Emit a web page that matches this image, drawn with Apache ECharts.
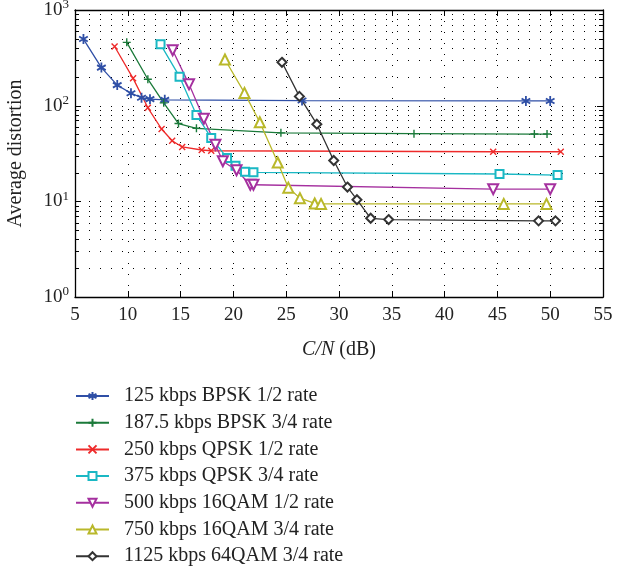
<!DOCTYPE html>
<html>
<head>
<meta charset="utf-8">
<script src="https://cdn.jsdelivr.net/npm/echarts@6/dist/echarts.min.js"></script>
<style>
  html, body { margin: 0; padding: 0; background: #fff; }
  #chart { width: 617px; height: 571px; }
</style>
</head>
<body>
<div id="chart"></div>
<script>
// C/N (dB) vs. average distortion for each modulation / coding mode
const seriesNames = [
  '125 kbps BPSK 1/2 rate',
  '187.5 kbps BPSK 3/4 rate',
  '250 kbps QPSK 1/2 rate',
  '375 kbps QPSK 3/4 rate',
  '500 kbps 16QAM 1/2 rate',
  '750 kbps 16QAM 3/4 rate',
  '1125 kbps 64QAM 3/4 rate'
];

const bpskHalf = [[5.8, 497], [7.5, 250], [9.0, 164], [10.3, 135], [11.3, 121], [12.1, 117], [13.5, 115], [26.5, 113], [47.7, 112], [50.0, 112]];
const bpskThreeQuarter = [[9.9, 459], [11.9, 189], [13.4, 107], [14.8, 65], [16.5, 58], [24.5, 52], [37.1, 51], [48.5, 50.5], [49.7, 50.5]];
const qpskHalf = [[8.75, 415], [10.5, 193], [11.9, 95], [13.2, 57], [14.2, 43], [15.15, 37], [17.0, 34.4], [17.9, 33.8], [44.6, 33], [51.0, 33]];
const qpskThreeQuarter = [[13.1, 438], [14.9, 201], [16.5, 80], [17.9, 46], [19.4, 28.4], [20.2, 23.5], [21.1, 20.4], [21.9, 20.1], [45.2, 19.3], [50.7, 18.8]];
const qam16Half = [[14.25, 379], [15.8, 167], [17.2, 73], [18.3, 39], [19.0, 26.2], [20.3, 21.1], [21.6, 14.9], [21.9, 14.9], [44.6, 13.4], [50.0, 13.4]];
const qam16ThreeQuarter = [[19.2, 304], [21.05, 136], [22.5, 67], [24.2, 25.5], [25.2, 13.9], [26.3, 10.8], [27.7, 9.5], [28.3, 9.4], [45.6, 9.4], [49.65, 9.4]];
const qam64ThreeQuarter = [[24.6, 284], [26.25, 125], [27.9, 64], [29.5, 26.7], [30.8, 14.1], [31.7, 10.4], [33.0, 6.65], [34.7, 6.45], [48.9, 6.25], [50.5, 6.25]];

// axis ranges and tick values
const xMin = 5, xMax = 55, xStep = 5;
const yMin = 1, yMax = 1000;
const yDecades = [1, 10, 100, 1000];
// logarithmic grid lines: 2..9 in each decade plus inner decades
const yGridValues = [];
for (let d = 1; d < 1000; d *= 10) {
  for (let m = 1; m <= 9; m++) {
    const v = m * d;
    if (v > yMin && v < yMax) yGridValues.push(v);
  }
}

const FONT = 'Liberation Serif';
const colors = ['#2f4fa6', '#1b7a3a', '#ee2a2a', '#1ab8c4', '#a5309f', '#b9b82a', '#333333'];

const asterisk = 'path://M5,0L5,10M0.67,2.5L9.33,7.5M0.67,7.5L9.33,2.5';
const plus = 'path://M5,0L5,10M0,5L10,5';
const cross = 'path://M0,0L10,10M0,10L10,0';

const dataSets = [bpskHalf, bpskThreeQuarter, qpskHalf, qpskThreeQuarter, qam16Half, qam16ThreeQuarter, qam64ThreeQuarter];
const symbolSpec = [
  { symbol: asterisk, size: 10, rotate: 0, border: 1.8 },
  { symbol: plus, size: 8, rotate: 0, border: 1.4 },
  { symbol: cross, size: 6, rotate: 0, border: 1.4 },
  { symbol: 'emptyRect', size: 8, rotate: 0, border: 1.3 },
  { symbol: 'emptyTriangle', size: 10, rotate: 180, border: 1.3 },
  { symbol: 'emptyTriangle', size: 10, rotate: 0, border: 1.3 },
  { symbol: 'emptyDiamond', size: 9, rotate: 0, border: 1.3 }
];

const lineSeries = dataSets.map((d, i) => ({
  name: seriesNames[i],
  type: 'line',
  data: d,
  xAxisIndex: 0,
  yAxisIndex: 0,
  symbol: symbolSpec[i].symbol,
  symbolSize: symbolSpec[i].size,
  symbolRotate: symbolSpec[i].rotate,
  symbolKeepAspect: true,
  showAllSymbol: true,
  lineStyle: { color: colors[i], width: 1.3 },
  itemStyle: { color: colors[i], borderColor: colors[i], borderWidth: symbolSpec[i].border },
  emphasis: { disabled: true },
  z: 3
}));

// dotted log grid lines with minor ticks on both sides
const gridSeries = {
  type: 'custom',
  xAxisIndex: 0,
  yAxisIndex: 0,
  silent: true,
  z: 1,
  data: yGridValues.map(v => [xMin, v]),
  renderItem: function (params, api) {
    const v = api.value(1);
    const p0 = api.coord([xMin, v]);
    const p1 = api.coord([xMax, v]);
    const y = Math.round(p0[1]) + 0.5;
    const isMajor = yDecades.indexOf(v) >= 0;
    const t = isMajor ? 6 : 4;
    return {
      type: 'group',
      children: [
        { type: 'line', shape: { x1: p0[0] + 3, y1: y, x2: p1[0], y2: y },
          style: { stroke: '#000', lineWidth: 1, lineDash: [1, 10] } },
        { type: 'line', shape: { x1: p0[0], y1: y, x2: p0[0] + t, y2: y },
          style: { stroke: '#000', lineWidth: 1 } },
        { type: 'line', shape: { x1: p1[0], y1: y, x2: p1[0] - t, y2: y },
          style: { stroke: '#000', lineWidth: 1 } }
      ]
    };
  }
};

const supMap = { 0: '0', 1: '1', 2: '2', 3: '3' };

const chart = echarts.init(document.getElementById('chart'), null, { renderer: 'canvas' });
chart.setOption({
  animation: false,
  backgroundColor: '#fff',
  textStyle: { fontFamily: FONT },
  grid: { left: 75, right: 14, top: 10, height: 287, containLabel: false, outerBoundsMode: 'none' },
  xAxis: [{
    type: 'value',
    min: xMin, max: xMax, interval: xStep,
    position: 'bottom',
    name: '{i|C/N} (dB)',
    nameLocation: 'middle',
    nameGap: 43,
    nameTextStyle: {
      fontFamily: FONT, fontSize: 20, color: '#222',
      rich: { i: { fontFamily: FONT, fontSize: 20, fontStyle: 'italic', color: '#222' } }
    },
    axisLine: { show: true, lineStyle: { color: '#000', width: 1.3 } },
    axisTick: { show: true, inside: true, length: 6, lineStyle: { color: '#000' } },
    axisLabel: { fontFamily: FONT, fontSize: 19, color: '#222', margin: 9 },
    splitLine: { show: true, lineStyle: { color: '#000', width: 1, type: [1, 10] } }
  }, {
    type: 'value',
    min: xMin, max: xMax, interval: xStep,
    position: 'top',
    axisLine: { show: true, lineStyle: { color: '#000', width: 1.3 } },
    axisTick: { show: true, inside: true, length: 6, lineStyle: { color: '#000' } },
    axisLabel: { show: false },
    splitLine: { show: false }
  }],
  yAxis: [{
    type: 'log',
    logBase: 10,
    min: yMin, max: yMax,
    position: 'left',
    name: 'Average distortion',
    nameLocation: 'middle',
    nameGap: 49,
    nameRotate: 90,
    nameTextStyle: { fontFamily: FONT, fontSize: 20, color: '#222' },
    axisLine: { show: true, lineStyle: { color: '#000', width: 1.3 } },
    axisTick: { show: false },
    splitLine: { show: false },
    axisLabel: {
      margin: 6,
      formatter: function (v) {
        const e = Math.round(Math.log10(v));
        return '{b|10}{s|' + supMap[e] + '}';
      },
      rich: {
        b: { fontFamily: FONT, fontSize: 19, color: '#222' },
        s: { fontFamily: FONT, fontSize: 13, color: '#222', verticalAlign: 'bottom', padding: [0, 0, 10, 0] }
      }
    }
  }, {
    type: 'log',
    logBase: 10,
    min: yMin, max: yMax,
    position: 'right',
    axisLine: { show: true, lineStyle: { color: '#000', width: 1.3 } },
    axisTick: { show: false },
    axisLabel: { show: false },
    splitLine: { show: false }
  }],
  legend: {
    orient: 'vertical',
    left: 75,
    top: 386,
    height: 190,
    padding: 0,
    itemWidth: 33,
    itemHeight: 10,
    itemGap: 6.7,
    selectedMode: false,
    data: seriesNames,
    textStyle: { fontFamily: FONT, fontSize: 20, color: '#222', lineHeight: 20, padding: [0, 0, 0, 10] }
  },
  series: [gridSeries].concat(lineSeries)
});
</script>
</body>
</html>
